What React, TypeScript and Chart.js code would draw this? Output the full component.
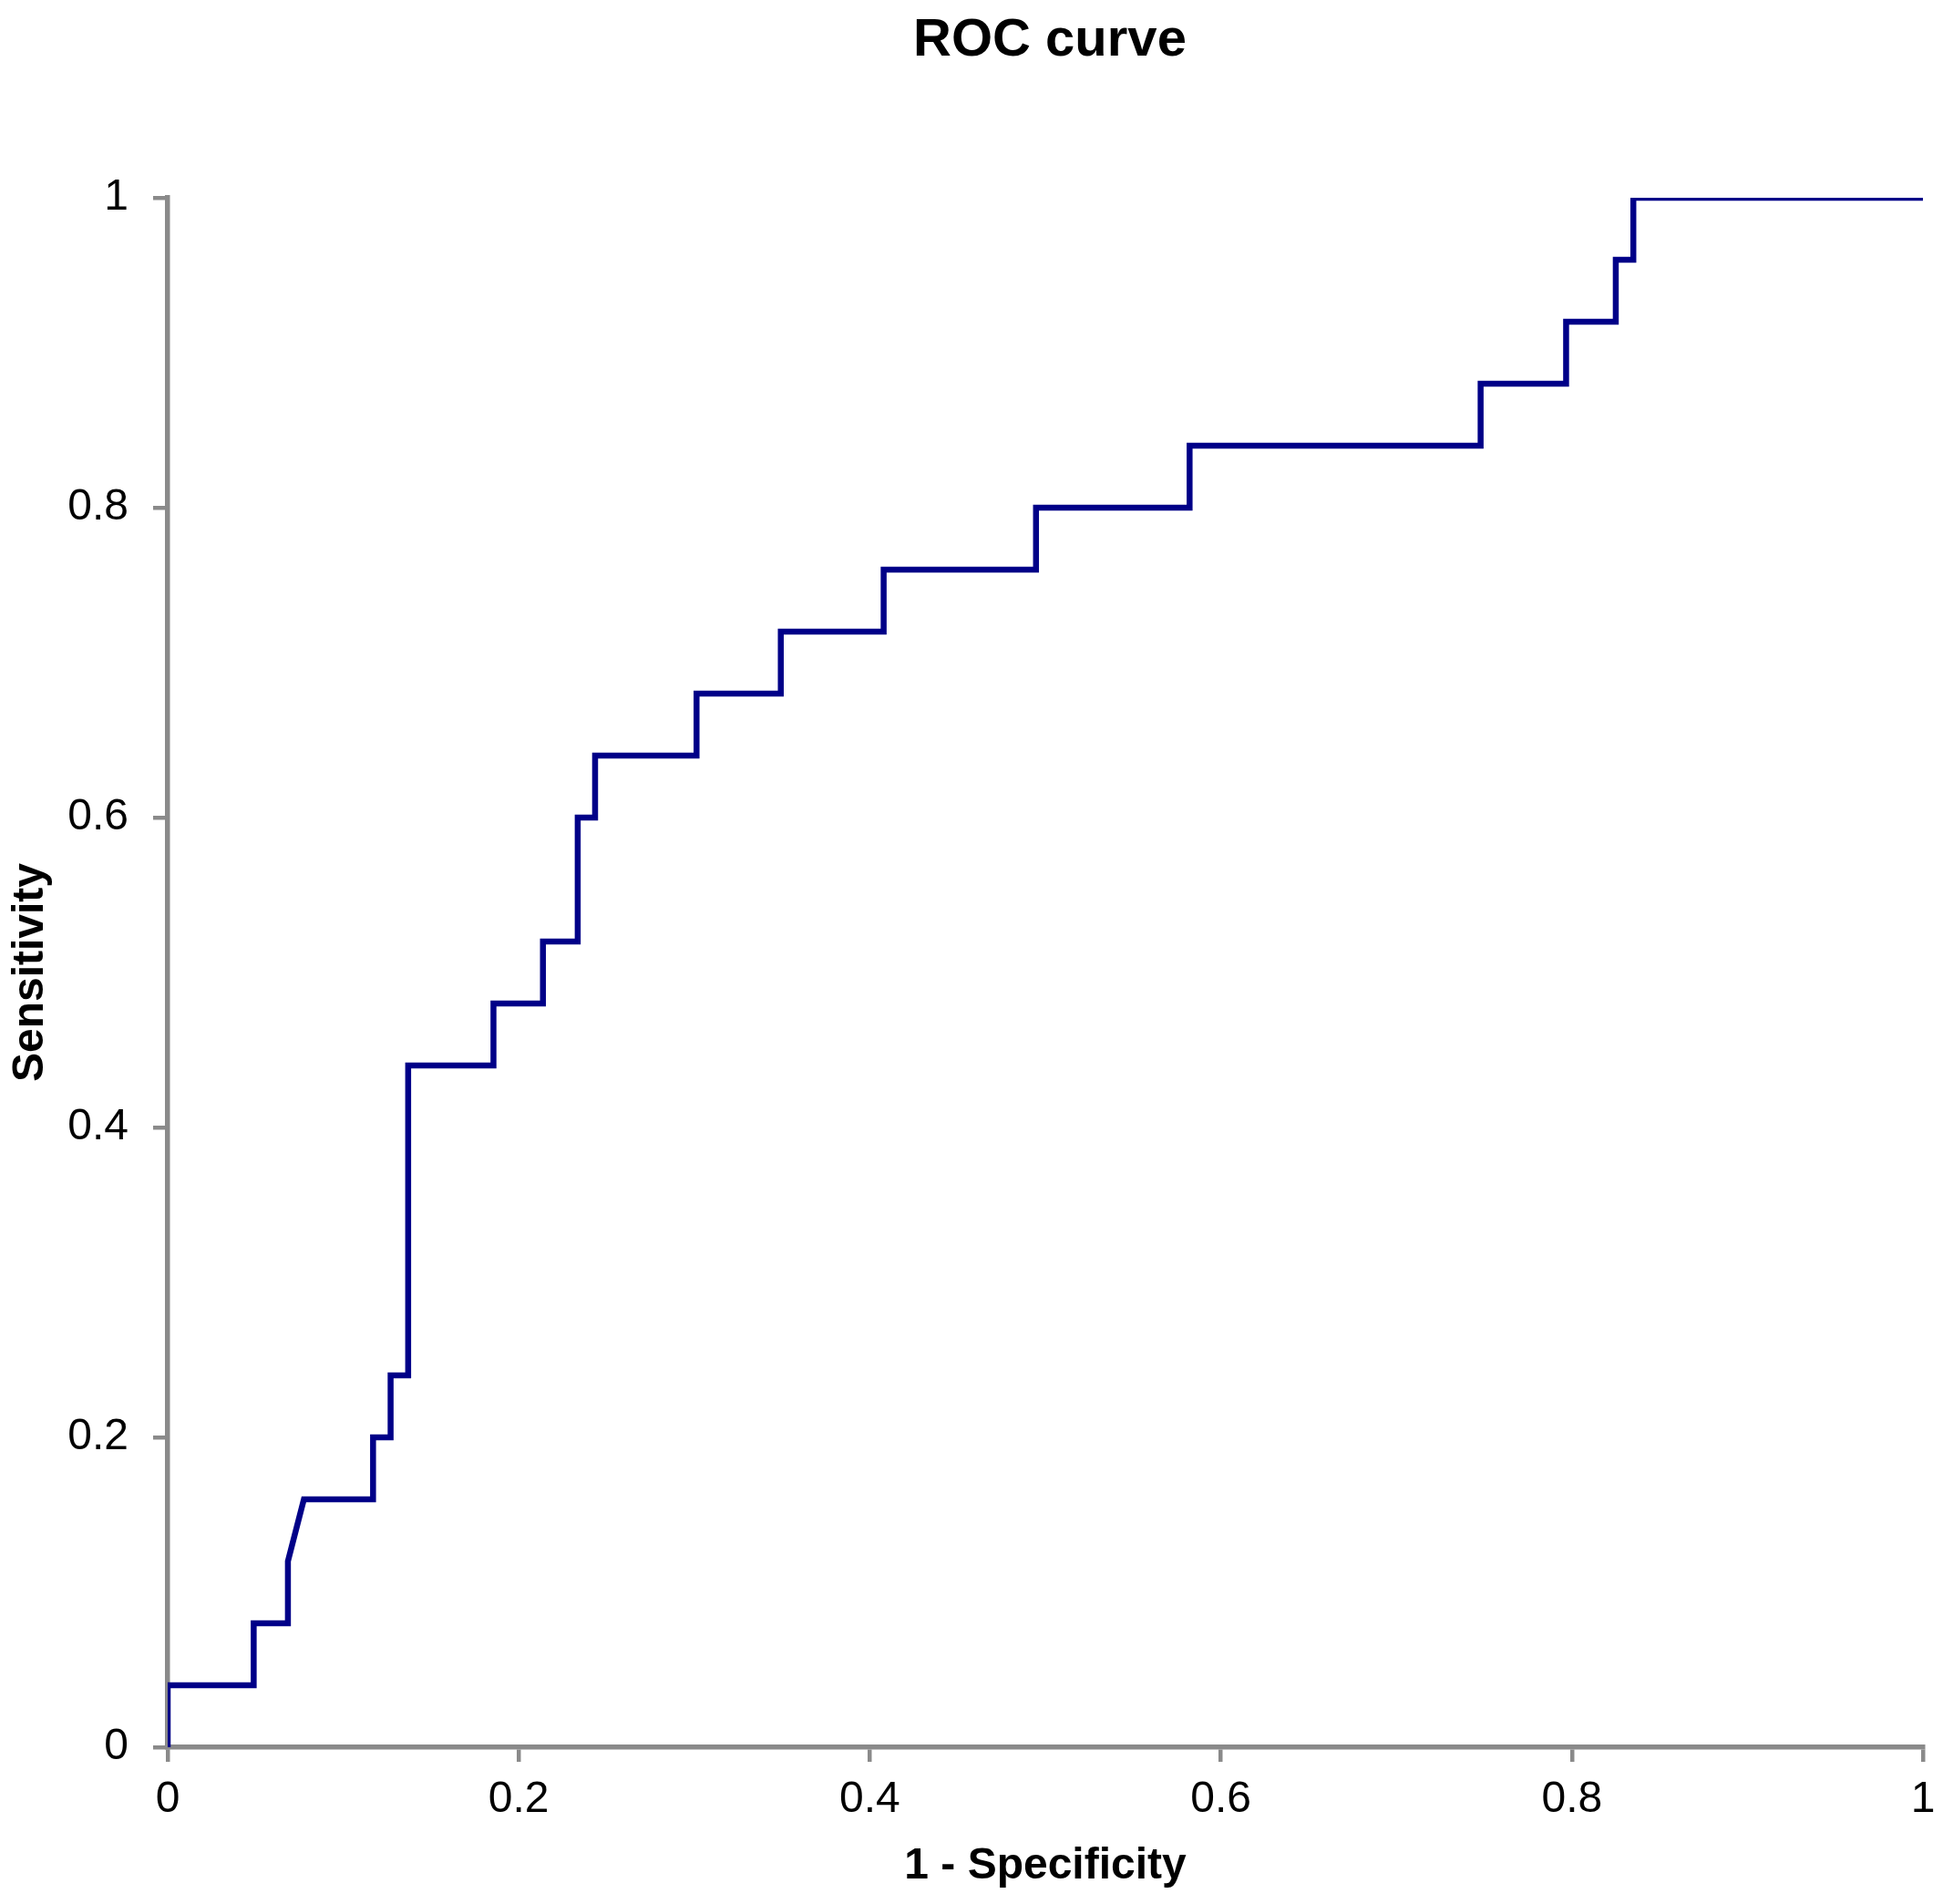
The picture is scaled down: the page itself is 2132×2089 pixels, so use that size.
import React, { useEffect, useRef } from "react";
import { Chart, registerables } from "chart.js";

Chart.register(...registerables);

const falsePositiveRate = [0, 0, 0.049, 0.049, 0.0685, 0.0685, 0.0776, 0.117, 0.117, 0.127, 0.127, 0.137, 0.137, 0.1856, 0.1856, 0.2138, 0.2138, 0.2336, 0.2336, 0.2435, 0.2435, 0.3013, 0.3013, 0.3493, 0.3493, 0.4079, 0.4079, 0.4947, 0.4947, 0.5822, 0.5822, 0.748, 0.748, 0.7967, 0.7967, 0.825, 0.825, 0.835, 0.835, 1];
const sensitivity = [0, 0.04, 0.04, 0.08, 0.08, 0.12, 0.16, 0.16, 0.2, 0.2, 0.24, 0.24, 0.44, 0.44, 0.48, 0.48, 0.52, 0.52, 0.6, 0.6, 0.64, 0.64, 0.68, 0.68, 0.72, 0.72, 0.76, 0.76, 0.8, 0.8, 0.84, 0.84, 0.88, 0.88, 0.92, 0.92, 0.96, 0.96, 1, 1];
const tickValues = [0, 0.2, 0.4, 0.6, 0.8, 1];
const tickLabels = ["0", "0.2", "0.4", "0.6", "0.8", "1"];
const chartTitle = "ROC curve";

const FONT = "'Liberation Sans', Arial, Helvetica, sans-serif";
const AXIS_GRAY = "#8a8a8a";

const centeredTitle = {
  id: "centeredTitle",
  afterDraw(chart: any) {
    const { ctx, chartArea } = chart;
    ctx.save();
    ctx.font = `bold 58px ${FONT}`;
    ctx.fillStyle = "#000";
    ctx.textAlign = "center";
    ctx.textBaseline = "middle";
    ctx.fillText(chartTitle, (chartArea.left + chartArea.right) / 2 + 5, 45);
    ctx.restore();
  },
};

export default function App() {
  const ref = useRef<HTMLCanvasElement | null>(null);
  useEffect(() => {
    document.body.style.margin = "0";
    const canvas = ref.current;
    if (!canvas) return;
    const points = falsePositiveRate.map((x, i) => ({ x, y: sensitivity[i] }));
    const setTicks = (scale: any) => {
      scale.ticks = tickValues.map((v) => ({ value: v }));
    };
    const fmt = (v: any) => {
      const idx = tickValues.findIndex((t) => Math.abs(t - Number(v)) < 1e-9);
      return idx >= 0 ? tickLabels[idx] : "";
    };
    const chart = new Chart(canvas, {
      type: "scatter",
      data: {
        datasets: [
          {
            data: points,
            showLine: true,
            borderColor: "#000088",
            backgroundColor: "#000088",
            borderWidth: 6.5,
            pointRadius: 0,
            pointHoverRadius: 0,
            tension: 0,
            clip: 0,
          } as any,
        ],
      },
      plugins: [centeredTitle],
      options: {
        animation: false,
        responsive: false,
        maintainAspectRatio: false,
        devicePixelRatio: 1,
        layout: { padding: { top: 217, right: 22, bottom: 0, left: 0 } },
        plugins: {
          legend: { display: false },
          tooltip: { enabled: false },
          title: { display: false },
        },
        scales: {
          x: {
            type: "linear",
            min: 0,
            max: 1,
            afterBuildTicks: setTicks,
            afterFit: (scale: any) => {
              scale.height = 172;
              scale.paddingLeft = 0;
              scale.paddingRight = 0;
            },
            ticks: {
              callback: fmt,
              color: "#000",
              padding: 13,
              font: { family: FONT, size: 48 },
              maxRotation: 0,
            },
            grid: {
              drawOnChartArea: false,
              drawTicks: true,
              tickLength: 16,
              color: AXIS_GRAY,
              lineWidth: 4.5,
            },
            border: { display: true, color: AXIS_GRAY, width: 5.5 },
            title: {
              display: true,
              text: "1 - Specificity",
              color: "#000",
              font: { family: FONT, size: 48, weight: "bold" },
              padding: 12,
            },
          },
          y: {
            type: "linear",
            min: 0,
            max: 1,
            afterBuildTicks: setTicks,
            afterFit: (scale: any) => {
              scale.width = 184;
              scale.paddingTop = 0;
              scale.paddingBottom = 0;
            },
            ticks: {
              callback: fmt,
              color: "#000",
              padding: 27,
              font: { family: FONT, size: 48 },
            },
            grid: {
              drawOnChartArea: false,
              drawTicks: true,
              tickLength: 16,
              color: AXIS_GRAY,
              lineWidth: 4.5,
            },
            border: { display: true, color: AXIS_GRAY, width: 5.5 },
            title: {
              display: true,
              text: "Sensitivity",
              color: "#000",
              font: { family: FONT, size: 48, weight: "bold" },
              padding: 5,
            },
          },
        },
      },
    });
    return () => chart.destroy();
  }, []);
  return (
    <div style={{ width: 2132, height: 2089, background: "#fff" }}>
      <canvas ref={ref} width={2132} height={2089} style={{ display: "block", width: 2132, height: 2089 }} />
    </div>
  );
}
